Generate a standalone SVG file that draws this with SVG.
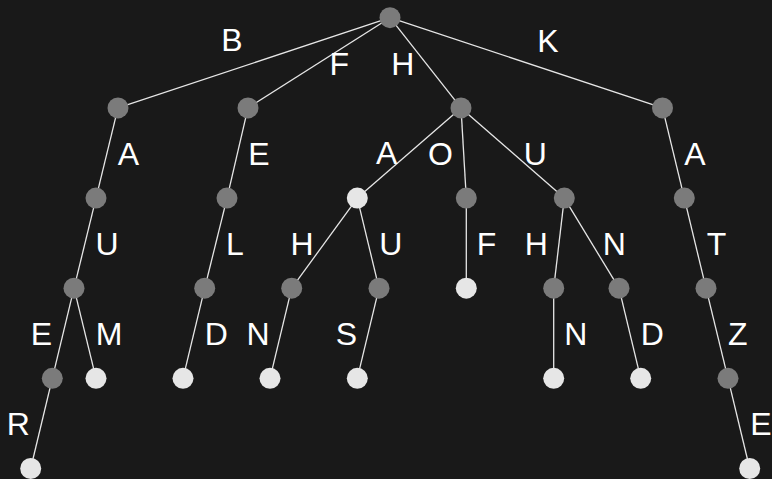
<svg xmlns="http://www.w3.org/2000/svg" width="772" height="479" viewBox="0 0 772 479">
<style>
.e{stroke:#e6e6e6;stroke-width:1.3;fill:none}
.g{fill:#7b7b7b}
.l{fill:#e6e6e6}
text{font-family:"Liberation Sans",Arial,sans-serif;font-size:32px;fill:#ffffff;text-anchor:middle}
</style>
<rect width="772" height="479" fill="#191919"/>
<g id="connectors">
<line class="e" x1="390" y1="17.7" x2="118" y2="107.9"/>
<line class="e" x1="390" y1="17.7" x2="248" y2="107.9"/>
<line class="e" x1="390" y1="17.7" x2="461" y2="107.9"/>
<line class="e" x1="390" y1="17.7" x2="662.5" y2="107.9"/>
<line class="e" x1="118" y1="107.9" x2="96" y2="198.1"/>
<line class="e" x1="248" y1="107.9" x2="227" y2="198.1"/>
<line class="e" x1="461" y1="107.9" x2="357.3" y2="198.1"/>
<line class="e" x1="461" y1="107.9" x2="466.3" y2="198.1"/>
<line class="e" x1="461" y1="107.9" x2="564.3" y2="198.1"/>
<line class="e" x1="662.5" y1="107.9" x2="684.3" y2="198.1"/>
<line class="e" x1="96" y1="198.1" x2="74" y2="288.2"/>
<line class="e" x1="227" y1="198.1" x2="204.7" y2="288.2"/>
<line class="e" x1="357.3" y1="198.1" x2="291.7" y2="288.2"/>
<line class="e" x1="357.3" y1="198.1" x2="379" y2="288.2"/>
<line class="e" x1="466.3" y1="198.1" x2="466.3" y2="288.2"/>
<line class="e" x1="564.3" y1="198.1" x2="553.7" y2="288.2"/>
<line class="e" x1="564.3" y1="198.1" x2="619" y2="288.2"/>
<line class="e" x1="684.3" y1="198.1" x2="706" y2="288.2"/>
<line class="e" x1="74" y1="288.2" x2="52.3" y2="378.3"/>
<line class="e" x1="74" y1="288.2" x2="96" y2="378.3"/>
<line class="e" x1="204.7" y1="288.2" x2="183" y2="378.3"/>
<line class="e" x1="291.7" y1="288.2" x2="270" y2="378.3"/>
<line class="e" x1="379" y1="288.2" x2="357.3" y2="378.3"/>
<line class="e" x1="553.7" y1="288.2" x2="553.7" y2="378.3"/>
<line class="e" x1="619" y1="288.2" x2="640.7" y2="378.3"/>
<line class="e" x1="706" y1="288.2" x2="728" y2="378.3"/>
<line class="e" x1="52.3" y1="378.3" x2="30.7" y2="468.5"/>
<line class="e" x1="728" y1="378.3" x2="749.7" y2="468.5"/>
</g>
<g id="labels">
<text x="232" y="51">B</text>
<text x="339.3" y="75">F</text>
<text x="402.7" y="75">H</text>
<text x="548" y="51.5">K</text>
<text x="128.3" y="165">A</text>
<text x="259" y="165">E</text>
<text x="386.7" y="164">A</text>
<text x="440.5" y="165">O</text>
<text x="535.3" y="165">U</text>
<text x="695" y="165">A</text>
<text x="107" y="255">U</text>
<text x="235" y="255">L</text>
<text x="302" y="255">H</text>
<text x="390.8" y="255">U</text>
<text x="486.5" y="255">F</text>
<text x="536.3" y="255">H</text>
<text x="614.2" y="255">N</text>
<text x="716.5" y="255">T</text>
<text x="41.3" y="345">E</text>
<text x="109.2" y="345">M</text>
<text x="216.2" y="345">D</text>
<text x="258" y="345">N</text>
<text x="346.3" y="345">S</text>
<text x="575.7" y="345">N</text>
<text x="652.2" y="345">D</text>
<text x="737.8" y="345">Z</text>
<text x="18.3" y="434.5">R</text>
<text x="761" y="435">E</text>
</g>
<g id="root"><circle class="g" cx="390" cy="17.7" r="10.5"/></g>
<g id="n_B"><circle class="g" cx="118" cy="107.9" r="10.5"/></g>
<g id="n_F"><circle class="g" cx="248" cy="107.9" r="10.5"/></g>
<g id="n_H"><circle class="g" cx="461" cy="107.9" r="10.5"/></g>
<g id="n_K"><circle class="g" cx="662.5" cy="107.9" r="10.5"/></g>
<g id="n_BA"><circle class="g" cx="96" cy="198.1" r="10.5"/></g>
<g id="n_FE"><circle class="g" cx="227" cy="198.1" r="10.5"/></g>
<g id="n_HA"><circle class="l" cx="357.3" cy="198.1" r="10.5"/></g>
<g id="n_HO"><circle class="g" cx="466.3" cy="198.1" r="10.5"/></g>
<g id="n_HU"><circle class="g" cx="564.3" cy="198.1" r="10.5"/></g>
<g id="n_KA"><circle class="g" cx="684.3" cy="198.1" r="10.5"/></g>
<g id="n_BAU"><circle class="g" cx="74" cy="288.2" r="10.5"/></g>
<g id="n_FEL"><circle class="g" cx="204.7" cy="288.2" r="10.5"/></g>
<g id="n_HAH"><circle class="g" cx="291.7" cy="288.2" r="10.5"/></g>
<g id="n_HAU"><circle class="g" cx="379" cy="288.2" r="10.5"/></g>
<g id="n_HOF"><circle class="l" cx="466.3" cy="288.2" r="10.5"/></g>
<g id="n_HUH"><circle class="g" cx="553.7" cy="288.2" r="10.5"/></g>
<g id="n_HUN"><circle class="g" cx="619" cy="288.2" r="10.5"/></g>
<g id="n_KAT"><circle class="g" cx="706" cy="288.2" r="10.5"/></g>
<g id="n_BAUE"><circle class="g" cx="52.3" cy="378.3" r="10.5"/></g>
<g id="n_BAUM"><circle class="l" cx="96" cy="378.3" r="10.5"/></g>
<g id="n_FELD"><circle class="l" cx="183" cy="378.3" r="10.5"/></g>
<g id="n_HAHN"><circle class="l" cx="270" cy="378.3" r="10.5"/></g>
<g id="n_HAUS"><circle class="l" cx="357.3" cy="378.3" r="10.5"/></g>
<g id="n_HUHN"><circle class="l" cx="553.7" cy="378.3" r="10.5"/></g>
<g id="n_HUND"><circle class="l" cx="640.7" cy="378.3" r="10.5"/></g>
<g id="n_KATZ"><circle class="g" cx="728" cy="378.3" r="10.5"/></g>
<g id="n_BAUER"><circle class="l" cx="30.7" cy="468.5" r="10.5"/></g>
<g id="n_KATZE"><circle class="l" cx="749.7" cy="468.5" r="10.5"/></g>
</svg>
